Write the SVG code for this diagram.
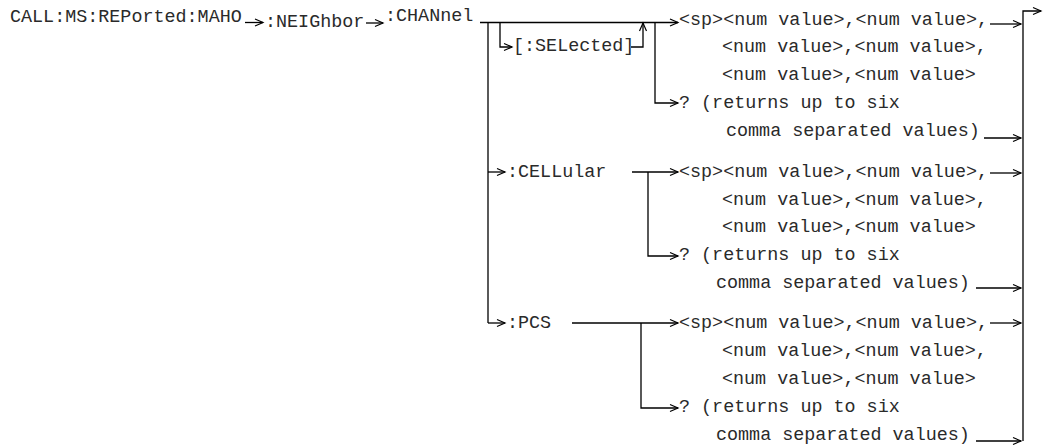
<svg xmlns="http://www.w3.org/2000/svg" width="1043" height="447" viewBox="0 0 1043 447">
<defs>
<style>
text{font-family:"Liberation Mono","Courier New",monospace;font-size:18.4px;fill:#2a2a2a;white-space:pre}
.c line,.c path{stroke:#000;stroke-width:1.3;fill:none}
.a{marker-end:url(#ah)}
</style>
<marker id="ah" markerUnits="userSpaceOnUse" markerWidth="10" markerHeight="10" refX="8" refY="4" orient="auto" overflow="visible">
<path d="M0,0.5 L8,4 L0,7.5" fill="none" stroke="#000" stroke-width="1.2"/>
</marker>
</defs>
<rect width="1043" height="447" fill="#fff"/>
<g id="root"><text x="10" y="22">CALL:MS:REPorted:MAHO</text></g>
<g id="neighbor"><text x="265" y="27">:NEIGhbor</text></g>
<g id="channel"><text x="385" y="21">:CHANnel</text></g>
<g id="selected"><text x="513" y="51">[:SELected]</text></g>
<g id="cellular"><text x="507" y="177">:CELLular</text></g>
<g id="pcs"><text x="507" y="328">:PCS</text></g>
<g id="block1">
<text x="679" y="25">&lt;sp&gt;&lt;num value&gt;,&lt;num value&gt;,</text>
<text x="722" y="52">&lt;num value&gt;,&lt;num value&gt;,</text>
<text x="722" y="80">&lt;num value&gt;,&lt;num value&gt;</text>
<text x="679" y="108">? (returns up to six</text>
<text x="726" y="136">comma separated values)</text>
</g>
<g id="block2">
<text x="679" y="177">&lt;sp&gt;&lt;num value&gt;,&lt;num value&gt;,</text>
<text x="722" y="205">&lt;num value&gt;,&lt;num value&gt;,</text>
<text x="722" y="232">&lt;num value&gt;,&lt;num value&gt;</text>
<text x="679" y="260">? (returns up to six</text>
<text x="716" y="288">comma separated values)</text>
</g>
<g id="block3">
<text x="679" y="328">&lt;sp&gt;&lt;num value&gt;,&lt;num value&gt;,</text>
<text x="722" y="356">&lt;num value&gt;,&lt;num value&gt;,</text>
<text x="722" y="384">&lt;num value&gt;,&lt;num value&gt;</text>
<text x="679" y="412">? (returns up to six</text>
<text x="716" y="440">comma separated values)</text>
</g>
<g id="connectors" class="c">
<line class="a" x1="245" y1="22.5" x2="263" y2="22.5"/>
<line class="a" x1="366" y1="23" x2="383" y2="23"/>
<line class="a" x1="480" y1="22.5" x2="678" y2="22.5"/>
<line x1="488" y1="22.5" x2="488" y2="323"/>
<path class="a" d="M500,22.5 V47 H512"/>
<path class="a" d="M631,47 H643 V23"/>
<path class="a" d="M655,22.5 V103 H678"/>
<path class="a" d="M488,172 H505"/>
<path class="a" d="M488,323 H505"/>
<line class="a" x1="632" y1="172" x2="678" y2="172"/>
<path class="a" d="M648,172 V256 H678"/>
<line class="a" x1="572" y1="323" x2="678" y2="323"/>
<path class="a" d="M641,323 V408 H678"/>
<line class="a" x1="990" y1="24" x2="1021" y2="24"/>
<line class="a" x1="984" y1="138" x2="1021" y2="138"/>
<line class="a" x1="990" y1="173" x2="1021" y2="173"/>
<line class="a" x1="976" y1="288" x2="1021" y2="288"/>
<line class="a" x1="990" y1="323" x2="1021" y2="323"/>
<line class="a" x1="976" y1="441" x2="1021" y2="441"/>
<path class="a" d="M1023,441 V11 H1041"/>
</g>
</svg>
